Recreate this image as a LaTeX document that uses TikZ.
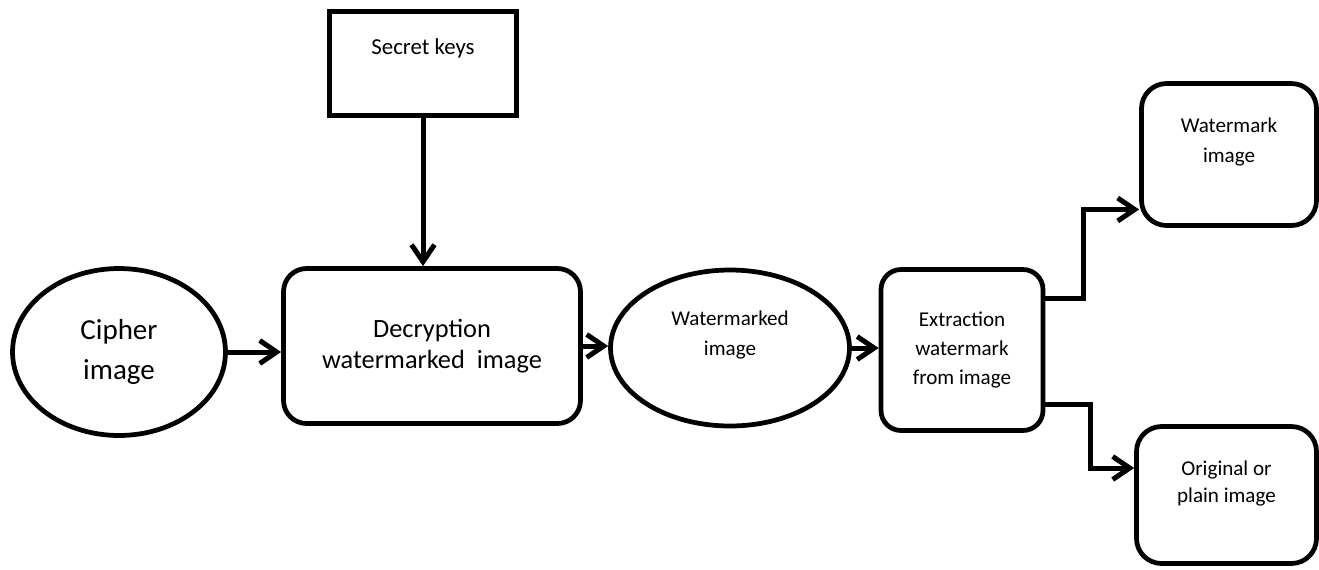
\documentclass[tikz,border=0pt]{standalone}
\usepackage{fontspec}
\setmainfont{Carlito}
\usepackage{tikz}
\usetikzlibrary{positioning,arrows.meta,shapes.geometric}

\tikzset{
  box/.style={draw, line width=0.095cm, rectangle, inner sep=0pt},
  rbox/.style={box, rounded corners=0.46cm},
  oval/.style={draw, line width=0.095cm, ellipse, inner sep=0pt},
  txt/.style={align=center, inner sep=0pt, font=\fontsize{12}{16.5}\selectfont},
  arr/.style={line width=0.1cm, -{Straight Barb[length=0.34cm,width=0.46cm]}},
}

\begin{document}
\begin{tikzpicture}[x=0.02cm,y=-0.02cm]%[pixel grid]
    \useasboundingbox (0,0) rectangle (1319,569);
    % shapes
    \node[box, minimum width=3.74cm, minimum height=2.08cm] (keys) at (423,63.5) {};
    \node[txt, font=\fontsize{13}{16}\selectfont] (keys-t) at (423,48) {Secret keys};
    \node[oval, minimum width=4.26cm, minimum height=3.34cm, align=center,
          font=\fontsize{16.5}{23}\selectfont] (cipher) at (119,352) {Cipher\\image};
    \node[rbox, minimum width=5.94cm, minimum height=3.1cm, align=center,
          font=\fontsize{15}{17.6}\selectfont] (dec) at (432,346) {Decryption\\watermarked~ image};
    \node[oval, minimum width=4.78cm, minimum height=3.12cm] (wm) at (730,348) {};
    \node[txt, font=\fontsize{12}{17}\selectfont] (wm-t) at (730,335) {Watermarked\\image};
    \node[rbox, rounded corners=0.4cm, minimum width=3.24cm, minimum height=3.22cm,
          txt] (ext) at (962,350) {Extraction\\watermark\\from image};
    \node[rbox, rounded corners=0.5cm, minimum width=3.5cm, minimum height=2.84cm] (wmimg) at (1229,154.5) {};
    \node[txt, font=\fontsize{12}{17}\selectfont] (wmimg-t) at (1229,142) {Watermark\\image};
    \node[rbox, rounded corners=0.5cm, minimum width=3.6cm, minimum height=2.74cm] (orig) at (1226.5,495) {};
    \node[txt, font=\fontsize{12}{15.5}\selectfont] (orig-t) at (1226.5,483.5) {Original or\\plain image};

    % connectors
    \path[arr]
            (keys.south) edge (keys.south |- dec.north)
            (cipher.east) edge (cipher.east -| dec.west)
            (dec.east) edge (dec.east -| wm.west)
            (wm.east) edge (wm.east -| ext.west);

    \coordinate (ext-a) at ([yshift=1.04cm]ext.east);
    \coordinate (ext-b) at ([yshift=-1.1cm]ext.east);
    \coordinate (wmimg-in) at ([yshift=-1.1cm]wmimg.west);
    \coordinate (orig-in) at ([yshift=0.54cm]orig.west);
    \draw[arr] (ext-a) -- ++(38,0) |- (wmimg-in);
    \draw[arr] (ext-b) -- ++(45,0) |- (orig-in);
\end{tikzpicture}
\end{document}
